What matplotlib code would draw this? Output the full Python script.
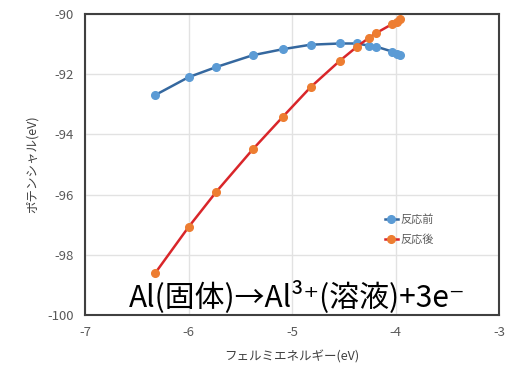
import numpy as np
import matplotlib.pyplot as plt

plt.rcParams['font.family'] = ['Noto Sans CJK JP', 'DejaVu Sans']
plt.rcParams['axes.unicode_minus'] = False

x_vals = [-6.32, -6.0, -5.73, -5.38, -5.09, -4.82, -4.54, -4.37, -4.26, -4.19, -4.03, -3.99, -3.96]
before = [-92.69, -92.1, -91.76, -91.37, -91.17, -91.02, -90.98, -90.98, -91.05, -91.08, -91.25, -91.32, -91.35]
after = [-98.6, -97.08, -95.9, -94.5, -93.42, -92.43, -91.56, -91.08, -90.8, -90.64, -90.33, -90.26, -90.18]

fig = plt.figure(figsize=(5.19, 3.71), dpi=100)
ax = fig.add_axes([85/519, 1-315/371, 414/519, 301/371])

ax.plot(x_vals, before, color="#35689f", lw=1.8, marker="o", ms=5.5,
        mfc="#5b9bd5", mec="#5b9bd5", label="反応前", zorder=3)
ax.plot(x_vals, after, color="#d9262a", lw=1.8, marker="o", ms=5.5,
        mfc="#ed7d31", mec="#ed7d31", label="反応後", zorder=3)

ax.set_xlim(-7, -3)
ax.set_ylim(-100, -90)
ax.set_xticks([-7, -6, -5, -4, -3])
ax.set_yticks([-100, -98, -96, -94, -92, -90])
ax.grid(color="#e2e2e2", lw=1)
ax.set_axisbelow(True)
for s in ax.spines.values():
    s.set_color("#404040")
    s.set_linewidth(1.5)
ax.tick_params(length=0, colors="#595959", labelsize=9.5, pad=8)

ax.set_xlabel("フェルミエネルギー(eV)", fontsize=9, color="#404040", labelpad=8)
ax.set_ylabel("ポテンシャル(eV)", fontsize=9, color="#404040", labelpad=6)

leg = ax.legend(loc="upper left", bbox_to_anchor=(0.7, 0.37), frameon=False,
                fontsize=8, handlelength=1.2, handletextpad=0.2, labelspacing=0.9)
for t in leg.get_texts():
    t.set_color("#595959")

ax.text(-6.58, -99.4, "Al(固体)→Al³⁺(溶液)+3e⁻", fontsize=21.5, color="black",
        va="center", ha="left", zorder=5)

fig.savefig("out.png", dpi=100)
